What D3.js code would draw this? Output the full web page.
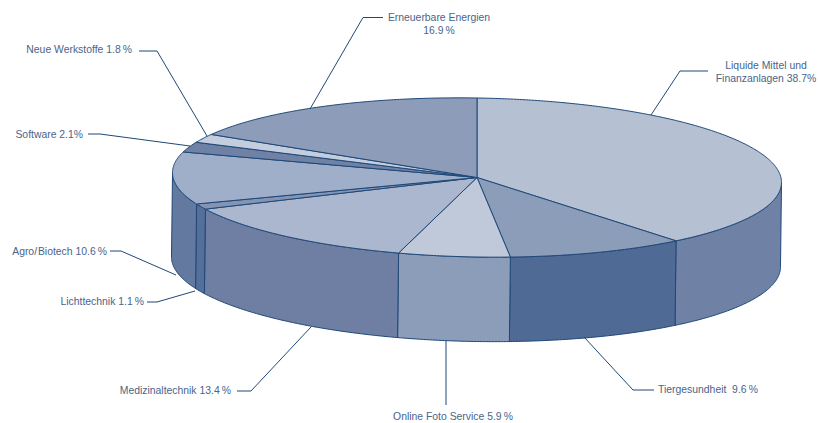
<!DOCTYPE html>
<html lang="de">
<head>
<meta charset="utf-8">
<title>Portfolio-Aufteilung</title>
<script src="https://cdn.jsdelivr.net/npm/d3@7/dist/d3.min.js"></script>
<style>
  html, body { margin: 0; padding: 0; background: #fff; }
  svg { display: block; }
  text { font-family: "Liberation Sans", Arial, sans-serif; font-size: 10.4px; fill: #4a648a; }
</style>
</head>
<body>
<svg id="chart" width="818" height="423"></svg>
<script>
// Sectors, clockwise from twelve o'clock
const categories = [
  "Liquide Mittel und Finanzanlagen", "Tiergesundheit", "Online Foto Service",
  "Medizinaltechnik", "Lichttechnik", "Agro/Biotech", "Software",
  "Neue Werkstoffe", "Erneuerbare Energien"
];
const shares = [38.7, 9.6, 5.9, 13.4, 1.1, 10.6, 2.1, 1.8, 16.9];

// Printed captions, one array entry per text line
const captionLines = [
  ["Liquide Mittel und", "Finanzanlagen 38.7%"],
  ["Tiergesundheit  9.6\u2009%"],
  ["Online Foto Service 5.9\u2009%"],
  ["Medizinaltechnik 13.4\u2009%"],
  ["Lichttechnik 1.1\u2009%"],
  ["Agro/\u200ABiotech 10.6\u2009%"],
  ["Software 2.1%"],
  ["Neue Werkstoffe 1.8\u2009%"],
  ["Erneuerbare Energien", "16.9\u2009%"]
];

const topColors  = ["#b5c0d3", "#8c9dba", "#bfc9d9", "#abb6cf", "#8494b5", "#9fafca", "#6f81a5", "#c3cddd", "#8c9cb9"];
const wallColors = ["#6f81a5", "#4f6a94", "#8c9dba", "#6f7fa3", "#54709a", "#64799f", "#64799f", "#64799f", "#64799f"];
const edgeColor = "#1f4877";

// Disc geometry: an ellipse with a slight shear, extruded downwards
const cx = 477, cy = 177.5, rx = 304.5, ry = 79.5, shear = 0.016, depth = 84.5, drift = -1;

const xScale = d3.scaleLinear().domain([-1, 1]).range([cx - rx, cx + rx]);
const yScale = d3.scaleLinear().domain([-1, 1]).range([cy - ry, cy + ry]);

const rim = a => [xScale(Math.sin(a)), yScale(-Math.cos(a)) + shear * rx * Math.sin(a)];
const rimLow = a => { const [x, y] = rim(a); return [x + drift, y + depth]; };
const arcAngles = (a0, a1) => {
  const n = Math.max(2, Math.ceil((a1 - a0) / 0.01));
  return d3.range(n + 1).map(i => a0 + (a1 - a0) * i / n);
};

const slices = d3.pie().sort(null).value(d => d)(shares);
const line = d3.line();
const svg = d3.select("#chart");

// Outer wall, visible only over the front half of the disc
const frontStart = Math.PI / 2, frontEnd = 3 * Math.PI / 2;
const walls = svg.append("g").attr("class", "walls");
slices.forEach((s, i) => {
  const a0 = Math.max(s.startAngle, frontStart), a1 = Math.min(s.endAngle, frontEnd);
  if (a1 <= a0) return;
  const span = arcAngles(a0, a1);
  const outline = span.map(rim).concat(span.slice().reverse().map(rimLow));
  walls.append("path")
    .attr("d", line(outline) + "Z")
    .attr("fill", wallColors[i])
    .attr("stroke", edgeColor)
    .attr("stroke-width", 1)
    .attr("stroke-linejoin", "round");
});

// Top face sectors
const tops = svg.append("g").attr("class", "tops");
slices.forEach((s, i) => {
  const outline = [[cx, cy]].concat(arcAngles(s.startAngle, s.endAngle).map(rim));
  tops.append("path")
    .attr("d", line(outline) + "Z")
    .attr("fill", topColors[i])
    .attr("stroke", edgeColor)
    .attr("stroke-width", 1)
    .attr("stroke-linejoin", "round");
});

// Leader lines and captions, listed in the same order as the categories
const leaders = [
  [[708, 71], [680, 71], [651, 115]],
  [[654, 390], [633, 390], [584, 337]],
  [[446, 405], [446, 341]],
  [[237, 391], [251, 391], [311, 327]],
  [[147, 302], [157, 302], [195, 291]],
  [[110, 251], [121, 251], [176, 275]],
  [[88, 134], [100, 134], [190, 146]],
  [[139, 51], [157, 51], [207, 136]],
  [[383, 17.5], [363, 17.5], [310, 109]]
];
const captionAnchors = [
  { x: 766, y: 69, anchor: "middle" },
  { x: 658, y: 393, anchor: "start" },
  { x: 453, y: 420, anchor: "middle" },
  { x: 231, y: 394, anchor: "end" },
  { x: 144, y: 305, anchor: "end" },
  { x: 107, y: 255, anchor: "end" },
  { x: 83, y: 138, anchor: "end" },
  { x: 132, y: 53, anchor: "end" },
  { x: 439, y: 21, anchor: "middle" }
];

const notes = svg.append("g").attr("class", "notes");
categories.forEach((name, i) => {
  notes.append("path")
    .attr("d", line(leaders[i]))
    .attr("fill", "none")
    .attr("stroke", edgeColor)
    .attr("stroke-width", 1);
  const c = captionAnchors[i];
  const t = notes.append("text")
    .attr("text-anchor", c.anchor)
    .attr("xml:space", "preserve")
    .attr("aria-label", name);
  captionLines[i].forEach((txt, k) => {
    t.append("tspan").attr("x", c.x).attr("y", c.y + k * 13).text(txt);
  });
});
</script>
</body>
</html>
